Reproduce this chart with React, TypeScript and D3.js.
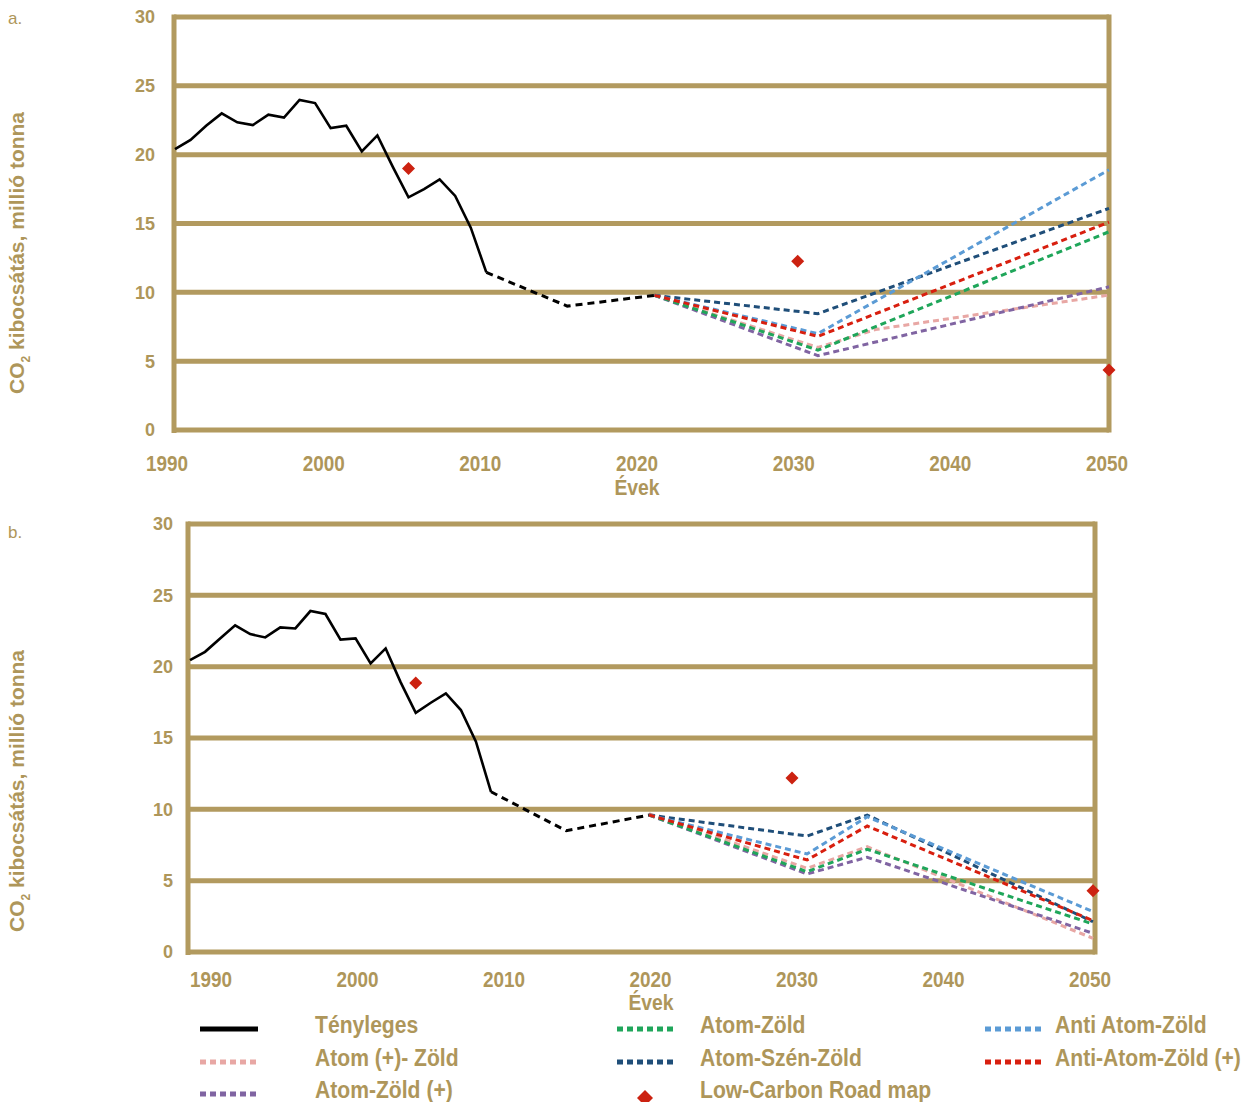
import React from "react";
import * as d3 from "d3";

// ---------- DATA ----------
const actualYears = [1990, 1991, 1992, 1993, 1994, 1995, 1996, 1997, 1998, 1999, 2000, 2001, 2002, 2003, 2004, 2005, 2006, 2007, 2008, 2009, 2010];
const actualA = [20.4, 21.07, 22.1, 23.0, 22.35, 22.15, 22.9, 22.7, 23.98, 23.75, 21.93, 22.1, 20.24, 21.4, 19.1, 16.9, 17.5, 18.2, 17.0, 14.7, 11.45];
const actualB = [20.46, 21.04, 21.98, 22.9, 22.28, 22.05, 22.75, 22.68, 23.9, 23.69, 21.9, 21.98, 20.23, 21.28, 18.9, 16.77, 17.47, 18.13, 16.96, 14.74, 11.23];

const bridgeYearsA = [2010, 2015.2, 2020.8];
const bridgeA = [11.45, 9.0, 9.78];
const bridgeYearsB = [2010, 2015, 2020.5];
const bridgeB = [11.23, 8.5, 9.6];

const scenarioYearsA = [2020.8, 2031.3, 2035, 2050];
const scenarioYearsB = [2020.5, 2031, 2035, 2050];

const seriesNames = ["Atom (+)- Zöld", "Atom-Zöld (+)", "Atom-Zöld", "Atom-Szén-Zöld", "Anti Atom-Zöld", "Anti-Atom-Zöld (+)"];
const seriesColors = ["#e8a7a4", "#8064a2", "#1fa65a", "#1f4e79", "#5b9bd5", "#d81f0f"];

const scenarioA: (number | null)[][] = [
  [9.78, 6.0, 7.3, 9.8],
  [9.78, 5.4, null, 10.4],
  [9.78, 5.8, null, 14.4],
  [9.78, 8.45, null, 16.1],
  [9.78, 7.0, null, 18.9],
  [9.78, 6.8, null, 15.1],
];
const scenarioB: (number | null)[][] = [
  [9.7, 5.87, 7.38, 0.96],
  [9.6, 5.47, 6.64, 1.31],
  [9.6, 5.63, 7.2, 1.96],
  [9.6, 8.13, 9.6, 2.12],
  [9.6, 6.87, 9.48, 2.83],
  [9.6, 6.45, 8.83, 2.2],
];

const roadmapYears = [2005, 2030, 2050];
const roadmapA = [19.0, 12.25, 4.35];
const roadmapB = [18.85, 12.2, 4.3];

const yTicks = [0, 5, 10, 15, 20, 25, 30];
const xTicks = [1990, 2000, 2010, 2020, 2030, 2040, 2050];

// ---------- STYLE ----------
const TAN = "#b29a5f";
const TEXT = "#ae965a";
const FONT = "'Liberation Sans', Arial, sans-serif";

function SText({ x, y, sx, size, anchor, children }: { x: number; y: number; sx: number; size: number; anchor?: string; children: React.ReactNode }) {
  return (
    <text transform={`translate(${x},${y}) scale(${sx},1)`} textAnchor={anchor || "start"} fontFamily={FONT} fontWeight="bold" fontSize={size} fill={TEXT}>
      {children}
    </text>
  );
}

type PanelProps = {
  letter: string;
  letterY: number;
  top: number;
  bottom: number;
  frameLeft: number;
  frameRight: number;
  dataLeft: number;
  dataRight: number;
  labelLeft: number;
  labelRight: number;
  yLabelRight: number;
  xLabelY: number;
  evekX: number;
  evekY: number;
  titleY: number;
  actual: number[];
  bridgeYears: number[];
  bridge: number[];
  scYears: number[];
  scenarios: (number | null)[][];
  roadmap: number[];
};

function Diamond({ x, y, r }: { x: number; y: number; r: number }) {
  return <path d={`M${x},${y - r}L${x + r},${y}L${x},${y + r}L${x - r},${y}Z`} fill="#cc2211" />;
}

function Panel(p: PanelProps) {
  const x = d3.scaleLinear().domain([1990, 2050]).range([p.dataLeft, p.dataRight]);
  const y = d3.scaleLinear().domain([0, 30]).range([p.bottom, p.top]);
  const xl = d3.scaleLinear().domain([1990, 2050]).range([p.labelLeft, p.labelRight]);
  const line = d3.line<[number, number]>().x((d) => x(d[0])).y((d) => y(d[1]));
  return (
    <g>
      <text x={8} y={p.letterY} fontFamily={FONT} fontSize={17} fill={TEXT}>{p.letter}</text>
      {yTicks.map((t) => (
        <line key={t} x1={p.frameLeft} x2={p.frameRight} y1={y(t)} y2={y(t)} stroke={TAN} strokeWidth={5} />
      ))}
      <line x1={p.frameLeft} x2={p.frameLeft} y1={p.top - 2.5} y2={p.bottom + 3} stroke={TAN} strokeWidth={5} />
      <line x1={p.frameRight} x2={p.frameRight} y1={p.top - 2.5} y2={p.bottom + 2.5} stroke={TAN} strokeWidth={5} />
      {yTicks.map((t) => (
        <text key={t} x={p.yLabelRight} y={y(t)} dy="0.36em" textAnchor="end" fontFamily={FONT} fontWeight="bold" fontSize={18} fill={TEXT}>{t}</text>
      ))}
      {xTicks.map((t) => (
        <SText key={t} x={xl(t)} y={p.xLabelY} sx={0.86} size={22} anchor="middle">{t}</SText>
      ))}
      <SText x={p.evekX} y={p.evekY} sx={0.88} size={22} anchor="middle">Évek</SText>
      <text transform={`translate(24,${p.titleY}) rotate(-90)`} textAnchor="middle" fontFamily={FONT} fontWeight="bold" fontSize={21} fill={TEXT}>
        CO<tspan fontSize={12} dy={6}>2</tspan><tspan dy={-6}> kibocsátás, millió tonna</tspan>
      </text>
      <path d={line(actualYears.map((yr, i) => [yr, p.actual[i]]))!} fill="none" stroke="#000" strokeWidth={2.6} />
      <path d={line(p.bridgeYears.map((yr, i) => [yr, p.bridge[i]]))!} fill="none" stroke="#000" strokeWidth={3} strokeDasharray="7 5" />
      {p.scenarios.map((vals, si) => {
        const pts = p.scYears
          .map((yr, i) => [yr, vals[i]] as [number, number | null])
          .filter((d) => d[1] != null) as [number, number][];
        return <path key={si} d={line(pts)!} fill="none" stroke={seriesColors[si]} strokeWidth={3} strokeDasharray="6 4" />;
      })}
      {roadmapYears.map((yr, i) => (
        <Diamond key={yr} x={x(yr)} y={y(p.roadmap[i])} r={6.5} />
      ))}
    </g>
  );
}

function Legend() {
  const cols = [200, 617, 985];
  const textX = [315, 700, 1055];
  const rows = [1026, 1059, 1091];
  const items: { name: string; color: string; type: string; col: number; row: number }[] = [
    { name: "Tényleges", color: "#000", type: "solid", col: 0, row: 0 },
    { name: seriesNames[0], color: seriesColors[0], type: "dash", col: 0, row: 1 },
    { name: seriesNames[1], color: seriesColors[1], type: "dash", col: 0, row: 2 },
    { name: seriesNames[2], color: seriesColors[2], type: "dash", col: 1, row: 0 },
    { name: seriesNames[3], color: seriesColors[3], type: "dash", col: 1, row: 1 },
    { name: "Low-Carbon Road map", color: "#cc2211", type: "diamond", col: 1, row: 2 },
    { name: seriesNames[4], color: seriesColors[4], type: "dash", col: 2, row: 0 },
    { name: seriesNames[5], color: seriesColors[5], type: "dash", col: 2, row: 1 },
  ];
  return (
    <g>
      {items.map((it) => {
        const sx = cols[it.col];
        const cy = rows[it.row] + 3;
        return (
          <g key={it.name}>
            {it.type === "solid" && <line x1={sx} x2={sx + 58} y1={cy} y2={cy} stroke="#000" strokeWidth={5} />}
            {it.type === "dash" && <line x1={sx} x2={sx + 58} y1={cy} y2={cy} stroke={it.color} strokeWidth={5} strokeDasharray="6 4" />}
            {it.type === "diamond" && <Diamond x={sx + 28} y={cy + 4} r={8} />}
            <SText x={textX[it.col]} y={rows[it.row] + 7} sx={0.88} size={24}>{it.name}</SText>
          </g>
        );
      })}
    </g>
  );
}

export default function App() {
  return (
    <svg width={1248} height={1102} style={{ position: "absolute", left: 0, top: 0, background: "#fff" }}>
      <Panel
        letter="a." letterY={24} top={17} bottom={430} frameLeft={174} frameRight={1109}
        dataLeft={175} dataRight={1109} labelLeft={167} labelRight={1107} yLabelRight={155}
        xLabelY={471} evekX={637} evekY={495} titleY={253}
        actual={actualA} bridgeYears={bridgeYearsA} bridge={bridgeA}
        scYears={scenarioYearsA} scenarios={scenarioA} roadmap={roadmapA}
      />
      <Panel
        letter="b." letterY={538} top={524} bottom={952} frameLeft={188} frameRight={1095}
        dataLeft={190} dataRight={1093} labelLeft={211} labelRight={1090} yLabelRight={173}
        xLabelY={987} evekX={651} evekY={1010} titleY={791}
        actual={actualB} bridgeYears={bridgeYearsB} bridge={bridgeB}
        scYears={scenarioYearsB} scenarios={scenarioB} roadmap={roadmapB}
      />
      <Legend />
    </svg>
  );
}
